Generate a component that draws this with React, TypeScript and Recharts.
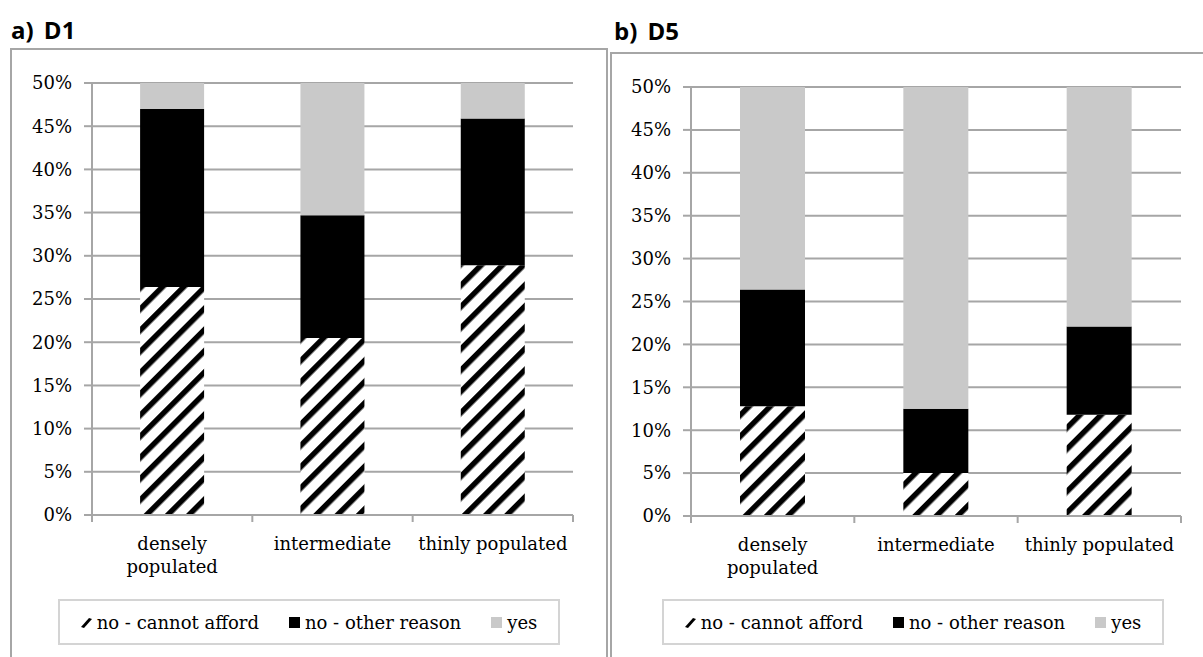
import { BarChart, Bar, XAxis, YAxis, CartesianGrid, Legend } from 'recharts';

const categories = ['densely populated', 'intermediate', 'thinly populated'];
const categoryLines = [['densely', 'populated'], ['intermediate'], ['thinly populated']];
const yTicks = [0, 5, 10, 15, 20, 25, 30, 35, 40, 45, 50];
const seriesNames = ['no - cannot afford', 'no - other reason', 'yes'];

// a) D1 (percent of population)
const d1CannotAfford = [26.4, 20.5, 28.9];
const d1OtherReason = [20.6, 14.2, 17.0];
const d1Yes = [53.0, 65.3, 54.1];

// b) D5
const d5CannotAfford = [12.8, 5.0, 11.8];
const d5OtherReason = [13.6, 7.5, 10.3];
const d5Yes = [73.6, 87.5, 77.9];

const serif = "'DejaVu Serif', serif";
const gray = '#a6a6a6';
const yesGray = '#c9c9c9';

const toRows = (a: number[], b: number[], c: number[]) =>
  categories.map((category, i) => ({ category, afford: a[i], other: b[i], yes: c[i] }));

const d1Data = toRows(d1CannotAfford, d1OtherReason, d1Yes);
const d5Data = toRows(d5CannotAfford, d5OtherReason, d5Yes);

function HatchDef({ id }: { id: string }) {
  return (
    <pattern id={id} patternUnits="userSpaceOnUse" width={15} height={15} patternTransform="rotate(45)">
      <rect x={0} y={0} width={15} height={15} fill="#fff" />
      <rect x={0} y={0} width={5.5} height={15} fill="#000" />
    </pattern>
  );
}

function CategoryTick(props: any) {
  const { x, y, payload, halfBand } = props;
  const index = payload?.index ?? props.index ?? 0;
  const half = typeof payload?.offset === 'number' && payload.offset > 0 ? payload.offset : halfBand;
  const lines = categoryLines[index] || [String(payload.value)];
  return (
    <g>
      <line x1={x - half} y1={y} x2={x - half} y2={y + 7} stroke={gray} strokeWidth={2} />
      {index === categories.length - 1 && (
        <line x1={x + half} y1={y} x2={x + half} y2={y + 7} stroke={gray} strokeWidth={2} />
      )}
      <text x={x} y={y + 35} textAnchor="middle" fontFamily={serif} fontSize={18} fill="#000">
        {lines.map((l, i) => (
          <tspan key={i} x={x} dy={i === 0 ? 0 : 23}>
            {l}
          </tspan>
        ))}
      </text>
    </g>
  );
}

function LegendBox() {
  const marker = (k: number) => (
    <svg width={11} height={11} style={{ display: 'block' }}>
      {k === 0 ? (
        <polygon points="0,10 3,11 11,2 8,1" fill="#000" />
      ) : (
        <rect x={0} y={0} width={11} height={11} fill={k === 1 ? '#000' : yesGray} />
      )}
    </svg>
  );
  return (
    <div
      style={{
        width: 502,
        height: 46,
        boxSizing: 'border-box',
        border: '2px solid #d4d4d4',
        display: 'flex',
        alignItems: 'center',
        justifyContent: 'center',
        gap: 30,
        fontFamily: serif,
        fontSize: 18,
        color: '#000',
        background: '#fff',
      }}
    >
      {seriesNames.map((name, k) => (
        <div key={name} style={{ display: 'flex', alignItems: 'center', gap: 5 }}>
          {marker(k)}
          <span>{name}</span>
        </div>
      ))}
    </div>
  );
}

function Panel({
  data,
  width,
  margin,
  yWidth,
  halfBand,
  hatchId,
  legendLeft,
}: {
  data: any[];
  width: number;
  margin: { top: number; right: number; bottom: number; left: number };
  yWidth: number;
  halfBand: number;
  hatchId: string;
  legendLeft: number;
}) {
  return (
    <BarChart width={width} height={657} data={data} margin={margin} barCategoryGap="30%">
      <defs>
        <HatchDef id={hatchId} />
      </defs>
      <CartesianGrid vertical={false} stroke={gray} strokeWidth={2} />
      <XAxis
        dataKey="category"
        interval={0}
        height={84}
        tickLine={false}
        tickSize={0}
        tickMargin={0}
        axisLine={{ stroke: gray, strokeWidth: 2 }}
        tick={(p: any) => <CategoryTick {...p} halfBand={halfBand} />}
      />
      <YAxis
        width={yWidth}
        domain={[0, 50]}
        ticks={yTicks}
        allowDataOverflow
        tickFormatter={(v: number) => `${v}%`}
        tickSize={8}
        tickMargin={12}
        axisLine={{ stroke: gray, strokeWidth: 2 }}
        tickLine={{ stroke: gray, strokeWidth: 2 }}
        tick={{ fill: '#000', fontSize: 18, fontFamily: serif }}
      />
      <Legend
        layout="horizontal"
        verticalAlign="middle"
        align="center"
        wrapperStyle={{ top: 599, left: legendLeft, width: 502 }}
        content={() => <LegendBox />}
      />
      <Bar dataKey="afford" stackId="s" fill={`url(#${hatchId})`} isAnimationActive={false} />
      <Bar dataKey="other" stackId="s" fill="#000" isAnimationActive={false} />
      <Bar dataKey="yes" stackId="s" fill={yesGray} isAnimationActive={false} />
    </BarChart>
  );
}

const titleStyle: React.CSSProperties = {
  position: 'absolute',
  fontFamily: "'Open Sans', sans-serif",
  fontWeight: 700,
  fontSize: 24,
  lineHeight: '24px',
  wordSpacing: 4,
  color: '#000',
  whiteSpace: 'nowrap',
};

export default function App() {
  return (
    <div
      style={{
        position: 'absolute',
        left: 0,
        top: 0,
        width: 1203,
        height: 657,
        overflow: 'hidden',
        background: '#fff',
      }}
    >
      <div style={{ ...titleStyle, left: 11, top: 18 }}>a) D1</div>
      <div style={{ ...titleStyle, left: 614, top: 19 }}>b) D5</div>

      <div
        style={{
          position: 'absolute',
          left: 10,
          top: 48,
          width: 598,
          height: 700,
          boxSizing: 'border-box',
          border: '2px solid #a6a6a6',
        }}
      />
      <div
        style={{
          position: 'absolute',
          left: 610,
          top: 52,
          width: 700,
          height: 700,
          boxSizing: 'border-box',
          border: '2px solid #a6a6a6',
        }}
      />

      <div style={{ position: 'absolute', left: 0, top: 0 }}>
        <Panel
          data={d1Data}
          width={607}
          margin={{ top: 83, right: 34, bottom: 58, left: 0 }}
          yWidth={92}
          halfBand={80.2}
          hatchId="hatch-d1"
          legendLeft={58}
        />
      </div>
      <div style={{ position: 'absolute', left: 600, top: 0 }}>
        <Panel
          data={d5Data}
          width={603}
          margin={{ top: 87, right: 22, bottom: 57, left: 0 }}
          yWidth={91}
          halfBand={81.7}
          hatchId="hatch-d5"
          legendLeft={62}
        />
      </div>
    </div>
  );
}
